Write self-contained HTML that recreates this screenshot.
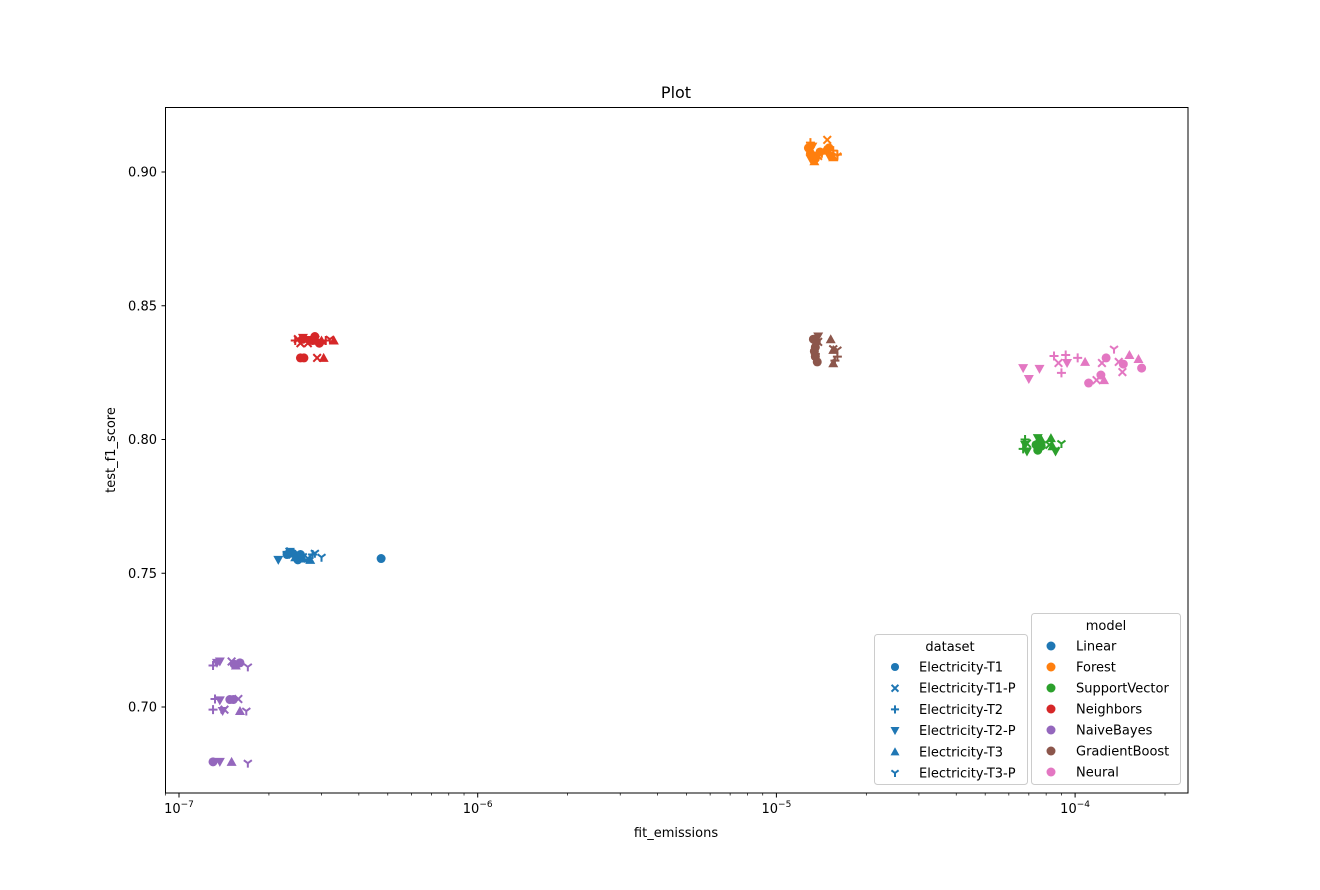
<!DOCTYPE html>
<html><head><meta charset="utf-8"><style>
body{margin:0;background:#fff;}
svg{display:block;font-family:"DejaVu Sans","Liberation Sans",sans-serif;}
</style></head><body>
<svg id="chart" width="1320" height="890" xmlns="http://www.w3.org/2000/svg">
<rect width="1320" height="890" fill="#fff"/>
<g id="marks"></g>
<rect x="165.5" y="107.5" width="1022.5" height="685.5" fill="none" stroke="#000" stroke-width="1"/>
<g id="axes"></g>
<text x="676" y="98" font-size="16" text-anchor="middle">Plot</text>
<text x="676" y="837" font-size="13" text-anchor="middle">fit_emissions</text>
<text transform="translate(115,450) rotate(-90)" font-size="13" text-anchor="middle">test_f1_score</text>
<g id="legends"></g>
</svg>
<script>
const models=["Linear","Forest","SupportVector","Neighbors","NaiveBayes","GradientBoost","Neural"];
const modelColors=["#1f77b4","#ff7f0e","#2ca02c","#d62728","#9467bd","#8c564b","#e377c2"];
const datasets=["Electricity-T1","Electricity-T1-P","Electricity-T2","Electricity-T2-P","Electricity-T3","Electricity-T3-P"];
const yTicks=[0.70,0.75,0.80,0.85,0.90];
const xDecades=[-7,-6,-5,-4];
// [model, dataset, emissions, f1]
const points=[
[0,0,2.5e-7,0.755],[0,0,2.3e-7,0.757],[0,0,4.75e-7,0.7555],[0,1,2.4e-7,0.757],[0,1,2.6e-7,0.756],
[0,2,2.3e-7,0.758],[0,2,2.8e-7,0.757],[0,3,2.15e-7,0.755],[0,3,2.45e-7,0.7565],[0,4,2.6e-7,0.7555],
[0,4,2.75e-7,0.755],[0,5,2.85e-7,0.7575],[0,5,3.0e-7,0.756],
[0,0,2.4e-7,0.7575],[0,3,2.35e-7,0.758],[0,0,2.55e-7,0.757],[0,4,2.45e-7,0.756],[0,1,2.7e-7,0.7555],
[3,0,2.6e-7,0.8375],[3,0,2.8e-7,0.837],[3,0,2.55e-7,0.8305],[3,0,2.62e-7,0.8305],[3,1,2.5e-7,0.8375],
[3,1,2.9e-7,0.8305],[3,1,2.55e-7,0.836],[3,2,2.45e-7,0.837],[3,2,3.1e-7,0.837],[3,3,2.6e-7,0.838],
[3,3,2.7e-7,0.8372],[3,4,3.0e-7,0.837],[3,4,3.05e-7,0.8305],[3,4,3.3e-7,0.837],[3,5,3.2e-7,0.8375],[3,5,2.9e-7,0.8365],
[3,0,2.85e-7,0.8385],[3,0,2.95e-7,0.836],[3,1,2.7e-7,0.836],[3,3,2.85e-7,0.8372],
[4,2,1.3e-7,0.7155],[4,3,1.37e-7,0.717],[4,1,1.5e-7,0.717],[4,0,1.6e-7,0.7165],[4,4,1.55e-7,0.7155],[4,5,1.7e-7,0.715],
[4,3,1.34e-7,0.7165],[4,0,1.53e-7,0.716],
[4,2,1.32e-7,0.703],[4,3,1.37e-7,0.7025],[4,0,1.48e-7,0.7028],[4,0,1.52e-7,0.7028],[4,1,1.58e-7,0.703],
[4,2,1.3e-7,0.699],[4,3,1.4e-7,0.6985],[4,1,1.42e-7,0.699],[4,4,1.6e-7,0.6985],[4,5,1.68e-7,0.6985],
[4,0,1.3e-7,0.6795],[4,3,1.37e-7,0.6795],[4,4,1.5e-7,0.6795],[4,5,1.7e-7,0.679],
[1,0,1.3e-5,0.907],[1,0,1.35e-5,0.905],[1,1,1.48e-5,0.912],[1,1,1.38e-5,0.906],[1,2,1.3e-5,0.911],
[1,2,1.55e-5,0.908],[1,3,1.32e-5,0.9095],[1,3,1.5e-5,0.906],[1,4,1.34e-5,0.904],[1,4,1.45e-5,0.908],
[1,5,1.6e-5,0.906],[1,5,1.42e-5,0.907],
[1,0,1.28e-5,0.909],[1,0,1.32e-5,0.9055],[1,0,1.4e-5,0.9075],[1,3,1.3e-5,0.905],[1,4,1.55e-5,0.9055],
[1,0,1.5e-5,0.909],[1,1,1.3e-5,0.908],[1,2,1.6e-5,0.9065],
[5,0,1.33e-5,0.8375],[5,0,1.35e-5,0.8345],[5,0,1.37e-5,0.829],[5,1,1.38e-5,0.8365],[5,2,1.6e-5,0.831],
[5,2,1.35e-5,0.832],[5,3,1.35e-5,0.836],[5,4,1.52e-5,0.8375],[5,4,1.55e-5,0.8285],[5,5,1.6e-5,0.8335],[5,5,1.55e-5,0.834],
[5,0,1.36e-5,0.8365],[5,0,1.35e-5,0.831],[5,3,1.38e-5,0.8385],[5,4,1.55e-5,0.8335],[5,2,1.57e-5,0.8295],[5,0,1.34e-5,0.833],
[2,0,7.5e-5,0.796],[2,0,7.6e-5,0.799],[2,1,8.2e-5,0.798],[2,2,6.7e-5,0.7965],[2,2,6.8e-5,0.8],
[2,3,6.9e-5,0.7955],[2,3,8.6e-5,0.7955],[2,4,8.3e-5,0.8005],[2,4,7.7e-5,0.8],[2,5,9e-5,0.7985],[2,5,8.6e-5,0.796],
[2,0,7.4e-5,0.798],[2,0,7.7e-5,0.7975],[2,3,6.8e-5,0.798],[2,4,8.4e-5,0.7975],[2,3,7.5e-5,0.8005],[2,1,6.9e-5,0.7985],
[6,3,6.7e-5,0.8267],[6,3,7.0e-5,0.8226],[6,3,7.6e-5,0.8264],[6,2,8.5e-5,0.8312],[6,2,9.3e-5,0.8316],
[6,1,8.8e-5,0.8286],[6,2,9e-5,0.8249],[6,3,9.4e-5,0.8286],[6,2,1.02e-4,0.8305],[6,4,1.08e-4,0.829],
[6,0,1.11e-4,0.8211],[6,1,1.18e-4,0.8222],[6,0,1.22e-4,0.8241],[6,4,1.25e-4,0.8222],[6,0,1.27e-4,0.8305],
[6,1,1.23e-4,0.8286],[6,5,1.35e-4,0.8338],[6,1,1.4e-4,0.829],[6,0,1.45e-4,0.8282],[6,1,1.44e-4,0.8252],
[6,4,1.52e-4,0.8316],[6,4,1.63e-4,0.8301],[6,0,1.67e-4,0.8267]
];
const NS="http://www.w3.org/2000/svg";
const X0=179,DEC=298.7;
function xs(e){return X0+DEC*(Math.log10(e)+7);}
function ys(v){return 172+(0.90-v)*2675;}
function mk(tag,attrs,parent){const el=document.createElementNS(NS,tag);for(const k in attrs)el.setAttribute(k,attrs[k]);parent.appendChild(el);return el;}
function marker(shape,x,y,color,parent,s){
  s=s||1;let el;
  if(shape===0){el=mk("circle",{cx:x,cy:y,r:4.5*s,fill:color},parent);}
  else if(shape===1){el=mk("path",{d:`M${x-3.8*s},${y-3.8*s}L${x+3.8*s},${y+3.8*s}M${x-3.8*s},${y+3.8*s}L${x+3.8*s},${y-3.8*s}`,stroke:color,"stroke-width":2,fill:"none"},parent);}
  else if(shape===2){el=mk("path",{d:`M${x-4.5*s},${y}L${x+4.5*s},${y}M${x},${y-4.5*s}L${x},${y+4.5*s}`,stroke:color,"stroke-width":2,fill:"none"},parent);}
  else if(shape===3){el=mk("path",{d:`M${x-5*s},${y-4*s}L${x+5*s},${y-4*s}L${x},${y+5*s}Z`,fill:color},parent);}
  else if(shape===4){el=mk("path",{d:`M${x-5*s},${y+4*s}L${x+5*s},${y+4*s}L${x},${y-5*s}Z`,fill:color},parent);}
  else {el=mk("path",{d:`M${x},${y}L${x},${y+4.5*s}M${x},${y}L${x-4*s},${y-3*s}M${x},${y}L${x+4*s},${y-3*s}`,stroke:color,"stroke-width":2,fill:"none"},parent);}
  return el;
}
const marks=document.getElementById("marks");
points.forEach(p=>{
  const el=marker(p[1],xs(p[2]),ys(p[3]),modelColors[p[0]],marks);
  
  
});
const axes=document.getElementById("axes");
yTicks.forEach(t=>{
  const y=ys(t);
  const l=mk("line",{x1:161.5,x2:165.5,y1:y,y2:y,stroke:"#000"},axes);
  
  
  const tx=mk("text",{x:157,y:y+4.5,"font-size":13,"text-anchor":"end"},axes);
  tx.textContent=t.toFixed(2);
  
  
});
xDecades.forEach(d=>{
  const x=xs(Math.pow(10,d));
  const l=mk("line",{x1:x,x2:x,y1:793,y2:797.5,stroke:"#000"},axes);
  
  
  const tx=mk("text",{x:x,y:813,"font-size":13,"text-anchor":"middle"},axes);
  tx.textContent="10";
  const sup=mk("tspan",{dy:-6,"font-size":9},tx);sup.textContent="\u2212"+String(-d);
  
  
  for(let m=2;m<=9;m++){
    const xm=xs(m*Math.pow(10,d));
    if(xm>1188)continue;
    const ml=mk("line",{x1:xm,x2:xm,y1:793,y2:795.5,stroke:"#000","stroke-width":0.7},axes);
    
    
  }
});
[9].forEach(m=>{const xm=xs(m*1e-8);if(xm>165){const ml=mk("line",{x1:xm,x2:xm,y1:793,y2:795.5,stroke:"#000","stroke-width":0.7},axes);}});
const lg=document.getElementById("legends");
const b1=mk("rect",{x:874.5,y:634.5,width:153,height:150,rx:3,fill:"#fff","fill-opacity":0.8,stroke:"#ccc"},lg);


const t1=mk("text",{x:950,y:651,"font-size":13,"text-anchor":"middle"},lg);t1.textContent="dataset";


datasets.forEach((d,i)=>{
  const y=667+i*21.2;
  const m=marker(i,895,y,"#1f77b4",lg,0.9);
  
  
  const t=mk("text",{x:919,y:y+4.5,"font-size":13},lg);t.textContent=d;
  
  
});
const b2=mk("rect",{x:1031.5,y:613.5,width:149,height:171,rx:3,fill:"#fff","fill-opacity":0.8,stroke:"#ccc"},lg);


const t2=mk("text",{x:1106,y:630,"font-size":13,"text-anchor":"middle"},lg);t2.textContent="model";


models.forEach((d,i)=>{
  const y=646+i*21;
  const m=mk("circle",{cx:1051,cy:y,r:4.5,fill:modelColors[i]},lg);
  
  
  const t=mk("text",{x:1076,y:y+4.5,"font-size":13},lg);t.textContent=d;
  
  
});
</script>
</body></html>
